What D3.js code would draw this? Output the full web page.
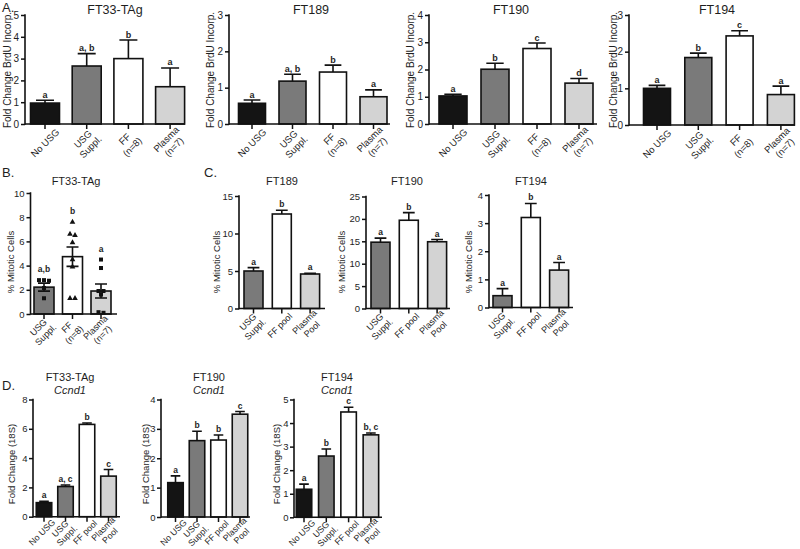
<!DOCTYPE html>
<html><head><meta charset="utf-8">
<script src="https://cdn.jsdelivr.net/npm/d3@7"></script>
<style>body{margin:0;background:#fff}svg{display:block}</style>
</head><body>
<script>
// ---------------- DATA ----------------
const catsA = ["No USG", "USG\nSuppl.", "FF\n(n=8)", "Plasma\n(n=7)"];
const fillsA = ["#141414", "#7a7a7a", "#ffffff", "#d3d3d3"];
const a1Vals = [0.96, 2.66, 3.0, 1.71], a1Sem = [0.13, 0.57, 0.85, 0.86], a1Let = ["a", "a, b", "b", "a"];
const a2Vals = [0.57, 1.18, 1.43, 0.75], a2Sem = [0.09, 0.19, 0.19, 0.19], a2Let = ["a", "a, b", "b", "a"];
const a3Vals = [1.03, 2.01, 2.77, 1.50], a3Sem = [0.06, 0.22, 0.20, 0.17], a3Let = ["a", "b", "c", "d"];
const a4Vals = [1.00, 1.84, 2.43, 0.83], a4Sem = [0.08, 0.12, 0.14, 0.23], a4Let = ["a", "b", "c", "a"];

const catsB = ["USG\nSuppl.", "FF\n(n=8)", "Plasma\n(n=7)"];
const fillsB = ["#7a7a7a", "#ffffff", "#d3d3d3"];
const bVals = [2.22, 4.74, 1.90], bSem = [0.33, 0.80, 0.58], bLet = ["a,b", "b", "a"];
const bPtsUSG = [2.80, 2.75, 2.80, 2.15, 1.30];
const bPtsFF = [7.6, 6.5, 6.6, 5.9, 4.5, 3.9, 1.3, 1.3];
const bPtsPlasma = [4.5, 3.8, 1.9, 1.9, 1.6, 0.15, 0.1];

const catsC = ["USG\nSuppl.", "FF pool", "Plasma\nPool"];
const fillsC = ["#7a7a7a", "#ffffff", "#d3d3d3"];
const c1Vals = [5.0, 12.6, 4.6], c1Sem = [0.45, 0.5, 0.08], c1Let = ["a", "b", "a"];
const c2Vals = [14.8, 19.7, 14.9], c2Sem = [0.9, 1.7, 0.5], c2Let = ["a", "b", "a"];
const c3Vals = [0.42, 3.2, 1.33], c3Sem = [0.25, 0.5, 0.27], c3Let = ["a", "b", "a"];

const catsD = ["No USG", "USG\nSuppl.", "FF pool", "Plasma\nPool"];
const fillsD = ["#141414", "#7a7a7a", "#ffffff", "#d3d3d3"];
const d1Vals = [0.96, 2.06, 6.30, 2.77], d1Sem = [0.09, 0.10, 0.10, 0.45], d1Let = ["a", "a, c", "b", "c"];
const d2Vals = [1.17, 2.60, 2.62, 3.50], d2Sem = [0.23, 0.32, 0.17, 0.09], d2Let = ["a", "b", "b", "c"];
const d3Vals = [1.19, 2.60, 4.47, 3.50], d3Sem = [0.22, 0.30, 0.20, 0.08], d3Let = ["a", "b", "c", "b, c"];

// ---------------- DRAW ----------------
const FONT = "'Liberation Sans', Arial, Helvetica, sans-serif";
const INK = "#1e1e1e";
const svg = d3.select("body").append("svg").attr("width", 800).attr("height", 549)
  .style("font-family", FONT);
svg.append("rect").attr("width", 800).attr("height", 549).attr("fill", "#fff");

function drawPanel(c) {
  const g = svg.append("g");
  const pi = 1 - c.bw / c.step;
  const r0 = c.first - c.step / 2;
  const x = d3.scaleBand().domain(c.cats).range([r0, r0 + c.cats.length * c.step])
    .paddingInner(pi).paddingOuter(pi / 2);
  const y = d3.scaleLinear().domain([0, c.ymax]).range([c.y0, c.y1]);
  const cx = d => x(d) + x.bandwidth() / 2;

  // bars
  g.selectAll("rect.bar").data(c.cats).join("rect")
    .attr("x", d => x(d)).attr("width", x.bandwidth())
    .attr("y", (d, i) => y(c.vals[i])).attr("height", (d, i) => c.y0 - y(c.vals[i]))
    .attr("fill", (d, i) => c.fills[i]).attr("stroke", "#111").attr("stroke-width", 1.6);

  // points (scatter)
  if (c.points) {
    c.cats.forEach((cat, i) => {
      const pts = c.points[i].slice().sort((a, b) => b - a);
      const clusters = [];
      pts.forEach(v => {
        const last = clusters[clusters.length - 1];
        if (last && Math.abs(last[last.length - 1] - v) < 0.2) last.push(v); else clusters.push([v]);
      });
      clusters.forEach(cl => {
        cl.forEach((v, k) => {
          const px = cx(cat) + (k - (cl.length - 1) / 2) * 5;
          const py = y(v);
          if (c.shapes[i] === "tri") {
            g.append("path").attr("d", d3.symbol(d3.symbolTriangle, 14)())
              .attr("transform", `translate(${px},${py})`).attr("fill", "#111");
          } else {
            g.append("rect").attr("x", px - 2).attr("y", py - 2).attr("width", 4).attr("height", 4).attr("fill", "#111");
          }
        });
      });
    });
  }

  // error bars
  const cap = x.bandwidth() * c.capFrac;
  c.cats.forEach((cat, i) => {
    const v = c.vals[i], e = c.sem[i];
    const xc = cx(cat);
    let d = `M${xc},${y(v)}V${y(v + e)}M${xc - cap / 2},${y(v + e)}H${xc + cap / 2}`;
    if (c.both) d = `M${xc},${y(v - e)}V${y(v + e)}M${xc - cap / 2},${y(v + e)}H${xc + cap / 2}M${xc - cap / 2},${y(v - e)}H${xc + cap / 2}`;
    g.append("path").attr("d", d).attr("stroke", "#111").attr("stroke-width", 1.6).attr("fill", "none");
  });

  // letters
  c.cats.forEach((cat, i) => {
    let top = c.vals[i] + c.sem[i];
    if (c.points) top = Math.max(top, d3.max(c.points[i]));
    g.append("text").attr("x", cx(cat)).attr("y", y(top) - c.letGap)
      .attr("text-anchor", "middle").attr("font-weight", "bold").attr("font-size", c.letFs)
      .attr("fill", INK).text(c.lets[i]);
  });

  // y axis
  const ya = d3.axisLeft(y).tickValues(d3.range(0, c.ymax + 1e-9, c.tstep))
    .tickSize(4).tickSizeOuter(0).tickPadding(c.tickPad || 2).tickFormat(d3.format("d"));
  const yg = g.append("g").attr("transform", `translate(${c.x0},0)`).call(ya);
  yg.select(".domain").remove();
  yg.selectAll("line").attr("stroke", "#111").attr("stroke-width", 1.5);
  yg.selectAll("text").attr("font-size", c.tickFs).attr("fill", INK).attr("font-family", FONT);
  g.append("line").attr("x1", c.x0).attr("x2", c.x0).attr("y1", c.y1 - 0.75).attr("y2", c.y0 + 0.75)
    .attr("stroke", "#111").attr("stroke-width", 1.6);

  // x axis
  const xa = d3.axisBottom(x).tickSize(5).tickSizeOuter(0).tickFormat("");
  const xg = g.append("g").attr("transform", `translate(0,${c.y0})`).call(xa);
  xg.select(".domain").remove();
  xg.selectAll("line").attr("stroke", "#111").attr("stroke-width", 1.5);
  g.append("line").attr("x1", c.x0).attr("x2", c.xEnd).attr("y1", c.y0).attr("y2", c.y0)
    .attr("stroke", "#111").attr("stroke-width", 1.6);

  // x labels (rotated, centred blocks)
  c.cats.forEach(cat => {
    const lines = cat.split("\n");
    const t = g.append("text")
      .attr("transform", `translate(${cx(cat) + c.lab[0]},${c.y0 + c.lab[1]}) rotate(-45)`)
      .attr("text-anchor", "middle").attr("font-size", c.xFs).attr("fill", INK);
    lines.forEach((ln, k) => {
      t.append("tspan").attr("x", 0).attr("y", (k - (lines.length - 1) / 2) * c.xFs * c.lh)
        .attr("dy", "0.35em").text(ln);
    });
  });

  // y label
  g.append("text").attr("transform", `translate(${c.ylabX},${c.ylabY}) rotate(-90)`)
    .attr("text-anchor", "middle").attr("dy", "0.35em").attr("font-size", c.ylabFs)
    .attr("fill", INK).text(c.ylab);

  // title
  c.title.forEach((tl, k) => {
    g.append("text").attr("x", c.titleX).attr("y", c.titleY + k * c.titleFs * 1.15)
      .attr("text-anchor", "middle").attr("font-size", c.titleFs).attr("fill", INK)
      .attr("font-style", k === 1 ? "italic" : "normal").text(tl);
  });
}

const baseA = { cats: catsA, fills: fillsA, capFrac: 0.62, letGap: 2.5, letFs: 9, tickFs: 10, xFs: 9.5, lh: 1.15,
  lab: [0, 19], ylab: "Fold Change BrdU Incorp.", ylabFs: 10, ylabY: 70, titleFs: 12.5, titleY: 14, y1: 15, y0: 124 };
drawPanel({ ...baseA, vals: a1Vals, sem: a1Sem, lets: a1Let, x0: 25, xEnd: 185, ymax: 5, tstep: 1,
  first: 45, step: 41.7, bw: 29, titleX: 115, title: ["FT33-TAg"], ylabX: 7 });
drawPanel({ ...baseA, vals: a2Vals, sem: a2Sem, lets: a2Let, x0: 229, xEnd: 390, ymax: 3, tstep: 1,
  first: 252, step: 40.5, bw: 27, titleX: 311, title: ["FT189"], ylabX: 210 });
drawPanel({ ...baseA, vals: a3Vals, sem: a3Sem, lets: a3Let, x0: 429, xEnd: 597, ymax: 4, tstep: 1,
  first: 453, step: 42, bw: 28, titleX: 511, title: ["FT190"], ylabX: 410 });
drawPanel({ ...baseA, vals: a4Vals, sem: a4Sem, lets: a4Let, x0: 629, xEnd: 795, ymax: 3, tstep: 1, y0: 125,
  first: 657, step: 41.3, bw: 27, titleX: 717, title: ["FT194"], ylabX: 613 });

drawPanel({ cats: catsB, fills: fillsB, vals: bVals, sem: bSem, lets: bLet, both: true,
  points: [bPtsUSG, bPtsFF, bPtsPlasma], shapes: ["sq", "tri", "sq"],
  capFrac: 0.6, letGap: 8, letFs: 8.5, tickFs: 9.5, xFs: 9, lh: 1.15, lab: [-2, 17],
  x0: 30.5, xEnd: 117, y0: 314, y1: 193, ymax: 10, tstep: 2, first: 44, step: 28.5, bw: 20,
  title: ["FT33-TAg"], titleX: 76, titleY: 184.5, titleFs: 11,
  ylab: "% Mitotic Cells", ylabFs: 9.5, ylabX: 11, ylabY: 262 });

const baseC = { cats: catsC, fills: fillsC, capFrac: 0.62, letGap: 3, letFs: 8.5, tickFs: 9.5, xFs: 9, lh: 1.15,
  lab: [-2, 17], ylab: "% Mitotic Cells", ylabFs: 9.5, ylabY: 262, titleFs: 11, titleY: 184.5, step: 28.3, bw: 19 };
drawPanel({ ...baseC, vals: c1Vals, sem: c1Sem, lets: c1Let, x0: 239, xEnd: 325, y0: 308.5, y1: 196,
  ymax: 15, tstep: 5, first: 253.5, titleX: 282, title: ["FT189"], ylabX: 216.5 });
drawPanel({ ...baseC, vals: c2Vals, sem: c2Sem, lets: c2Let, x0: 366, xEnd: 450, y0: 308.5, y1: 196.5,
  ymax: 25, tstep: 5, first: 380.5, titleX: 407, title: ["FT190"], ylabX: 342 });
drawPanel({ ...baseC, vals: c3Vals, sem: c3Sem, lets: c3Let, x0: 489, xEnd: 573, y0: 307.5, y1: 195,
  ymax: 4, tstep: 1, first: 502.5, titleX: 531, title: ["FT194"], ylabX: 469 });

const baseD = { cats: catsD, fills: fillsD, capFrac: 0.62, letGap: 3, letFs: 8.5, tickFs: 9.5, xFs: 8.8, lh: 1.08,
  tickPad: 1.5, lab: [-2, 15.5], ylab: "Fold Change (18S)", ylabFs: 9.5, ylabY: 464, titleFs: 11, titleY: 381, y1: 399.5, bw: 15.5 };
drawPanel({ ...baseD, vals: d1Vals, sem: d1Sem, lets: d1Let, x0: 33, xEnd: 120, y0: 516.7,
  ymax: 8, tstep: 2, first: 44, step: 21.5, titleX: 70, title: ["FT33-TAg", "Ccnd1"], ylabX: 12 });
drawPanel({ ...baseD, vals: d2Vals, sem: d2Sem, lets: d2Let, x0: 161, xEnd: 250, y0: 517,
  ymax: 4, tstep: 1, first: 175.5, step: 21.5, titleX: 209, title: ["FT190", "Ccnd1"], ylabX: 145.5 });
drawPanel({ ...baseD, vals: d3Vals, sem: d3Sem, lets: d3Let, x0: 294, xEnd: 382, y0: 517.3,
  ymax: 5, tstep: 1, first: 304, step: 22.3, titleX: 337, title: ["FT194", "Ccnd1"], ylabX: 277 });

// panel letters
[["A.", 2, 12], ["B.", 2, 177], ["C.", 204, 177], ["D.", 2, 390]].forEach(([t, px, py]) => {
  svg.append("text").attr("x", px).attr("y", py).attr("font-size", 13).attr("fill", INK).text(t);
});
</script>
</body></html>
